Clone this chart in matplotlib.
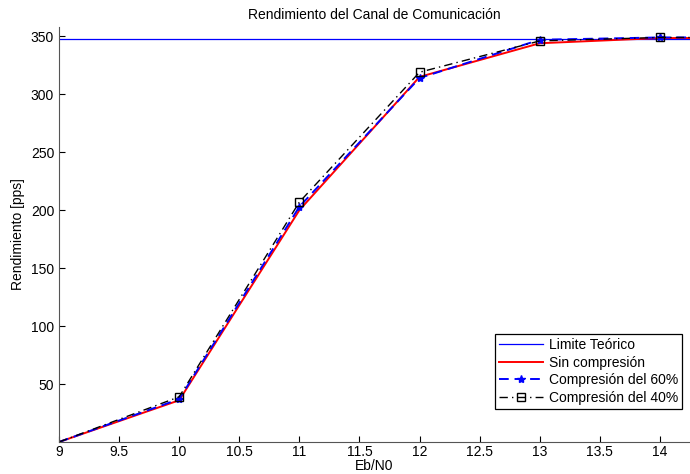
import matplotlib
matplotlib.use("Agg")
import matplotlib.pyplot as plt

plt.rcParams["font.family"] = ["Liberation Sans", "DejaVu Sans"]

EBN0 = [9, 10, 11, 12, 13, 14, 15]
LIMITE = 348
SIN_COMP = [0, 36, 200, 315, 344, 348.5, 348.5]
COMP_60 = [0, 37, 203, 314, 347, 349, 349]
COMP_40 = [0, 39, 207, 319, 346, 349, 349]
XTICKS = [9, 9.5, 10, 10.5, 11, 11.5, 12, 12.5, 13, 13.5, 14]
YTICKS = [50, 100, 150, 200, 250, 300, 350]

fig = plt.figure(figsize=(6.9, 4.74), dpi=100)
ax = fig.add_axes([0.0855, 0.0675, 0.9145, 0.8755])

# markers only on the inner points (9 and 15 fall on the clipped edges)
marks = [1, 2, 3, 4, 5]
ax.axhline(LIMITE, color="#0000ff", lw=0.9, label="Limite Teórico")
ax.plot(EBN0, SIN_COMP, color="#ff0000", lw=1.4, label="Sin compresión")
ax.plot(EBN0, COMP_60, color="#0000ff", lw=1.4, ls=(0, (5, 3)),
        marker="*", ms=6, markevery=marks, label="Compresión del 60%")
ax.plot(EBN0, COMP_40, color="black", lw=1.0, ls=(0, (6, 3, 1, 3)),
        marker="s", ms=6, mfc="none", mec="black", markevery=marks,
        label="Compresión del 40%")

ax.set_xlim(9, 14.25)
ax.set_ylim(0, 358)
ax.set_xticks(XTICKS)
ax.set_xticklabels([f"{t:g}" for t in XTICKS])
ax.set_yticks(YTICKS)
ax.tick_params(direction="in", labelsize=10, length=4, width=0.8)
ax.tick_params(axis="x", pad=2)
for side in ["top", "right"]:
    ax.spines[side].set_visible(False)
for side in ["left", "bottom"]:
    ax.spines[side].set_color("#555555")

ax.set_title("Rendimiento del Canal de Comunicación", fontsize=10, pad=6)
ax.set_xlabel("Eb/N0", fontsize=10, labelpad=0)
ax.set_ylabel("Rendimiento [pps]", fontsize=10)

leg = ax.legend(loc="lower right", fontsize=10, fancybox=False, framealpha=1,
                edgecolor="black", borderpad=0.3, labelspacing=0.25,
                handlelength=3.2, handletextpad=0.4,
                bbox_to_anchor=(0.999, 0.063))
leg.get_frame().set_linewidth(0.9)

fig.savefig("out.png", dpi=100)
